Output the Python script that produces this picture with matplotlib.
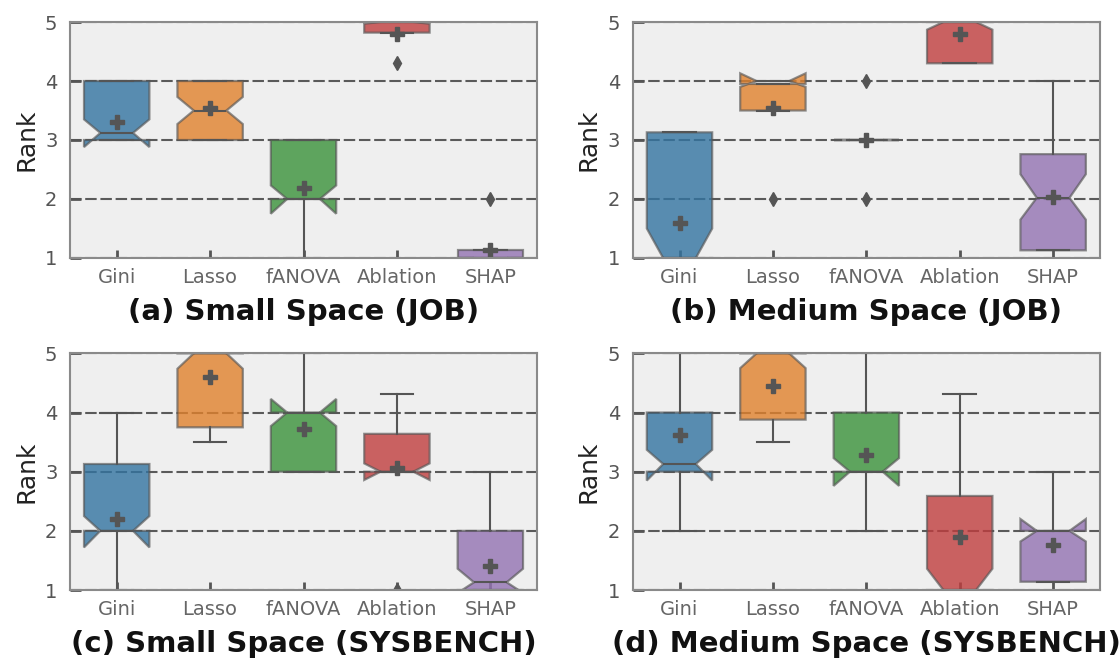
import matplotlib
matplotlib.use('Agg')
import matplotlib.pyplot as plt
import matplotlib.colors as mcolors

methods = ['Gini', 'Lasso', 'fANOVA', 'Ablation', 'SHAP']
titles = ['(a) Small Space (JOB)', '(b) Medium Space (JOB)',
          '(c) Small Space (SYSBENCH)', '(d) Medium Space (SYSBENCH)']

# box statistics, one list per statistic, one entry per method
# (a) small space, JOB
a_q1 = [3.0, 3.0, 2.0, 4.82, 1.0]
a_med = [3.12, 3.5, 2.0, 5.0, 1.0]
a_q3 = [4.0, 4.0, 3.0, 5.0, 1.14]
a_lo = [3.0, 3.0, 1.0, 4.82, 1.0]
a_hi = [4.0, 4.0, 3.0, 5.0, 1.14]
a_mean = [3.3, 3.55, 2.18, 4.8, 1.13]
a_cilo = [2.88, 3.27, 1.75, 4.97, 1.0]
a_cihi = [3.35, 3.73, 2.23, 5.03, 1.0]
a_fliers = [[], [], [], [4.3], [2.0]]

# (b) medium space, JOB
b_q1 = [1.0, 3.5, 3.0, 4.3, 1.13]
b_med = [1.0, 4.0, 3.0, 5.0, 2.02]
b_q3 = [3.13, 3.95, 3.0, 5.0, 2.76]
b_lo = [1.0, 3.5, 3.0, 4.3, 1.13]
b_hi = [3.13, 3.95, 3.0, 5.0, 4.0]
b_mean = [1.6, 3.55, 3.0, 4.8, 2.03]
b_cilo = [0.5, 3.9, 3.0, 4.87, 1.65]
b_cihi = [1.5, 4.13, 3.0, 5.13, 2.42]
b_fliers = [[], [2.0], [2.0, 4.0], [], []]

# (c) small space, SYSBENCH
c_q1 = [2.0, 3.75, 3.0, 3.0, 1.0]
c_med = [2.0, 5.0, 4.0, 3.0, 1.13]
c_q3 = [3.13, 5.0, 4.0, 3.64, 2.0]
c_lo = [1.0, 3.5, 3.0, 3.0, 1.0]
c_hi = [4.0, 5.0, 5.0, 4.32, 3.0]
c_mean = [2.2, 4.6, 3.73, 3.07, 1.4]
c_cilo = [1.72, 4.74, 3.77, 2.86, 0.95]
c_cihi = [2.25, 5.26, 4.23, 3.14, 1.36]
c_fliers = [[], [], [], [1.0], []]

# (d) medium space, SYSBENCH
d_q1 = [3.0, 3.88, 3.0, 1.0, 1.14]
d_med = [3.13, 5.0, 3.0, 1.0, 2.0]
d_q3 = [4.0, 5.0, 4.0, 2.59, 2.0]
d_lo = [2.0, 3.5, 2.0, 1.0, 1.14]
d_hi = [5.0, 5.0, 5.0, 4.32, 3.0]
d_mean = [3.62, 4.45, 3.29, 1.9, 1.76]
d_cilo = [2.85, 4.75, 2.76, 0.64, 1.82]
d_cihi = [3.37, 5.25, 3.23, 1.36, 2.2]
d_fliers = [[], [], [], [], []]

panels = [
    (a_q1, a_med, a_q3, a_lo, a_hi, a_mean, a_cilo, a_cihi, a_fliers),
    (b_q1, b_med, b_q3, b_lo, b_hi, b_mean, b_cilo, b_cihi, b_fliers),
    (c_q1, c_med, c_q3, c_lo, c_hi, c_mean, c_cilo, c_cihi, c_fliers),
    (d_q1, d_med, d_q3, d_lo, d_hi, d_mean, d_cilo, d_cihi, d_fliers),
]

colors = ['#3274a1', '#e1812c', '#3a923a', '#c03d3e', '#9372b2']
line_gray = '#555555'
bg = '#efefef'

fig = plt.figure(figsize=(11.2, 6.61), dpi=100)
positions = [
    [0.0625, 0.6097, 0.417, 0.357],
    [0.565, 0.6097, 0.417, 0.357],
    [0.0625, 0.1074, 0.417, 0.358],
    [0.565, 0.1074, 0.417, 0.358],
]

for k, (q1, med, q3, lo, hi, mean, cilo, cihi, fliers) in enumerate(panels):
    ax = fig.add_axes(positions[k])
    ax.set_facecolor(bg)
    stats = []
    for i, name in enumerate(methods):
        stats.append(dict(label=name, q1=q1[i], med=med[i], q3=q3[i],
                          whislo=lo[i], whishi=hi[i], mean=mean[i],
                          cilo=cilo[i], cihi=cihi[i], fliers=fliers[i]))
    bp = ax.bxp(stats, positions=range(len(methods)), widths=0.7,
                shownotches=True, patch_artist=True, showmeans=True,
                boxprops=dict(linewidth=1.6, edgecolor=line_gray),
                medianprops=dict(color=line_gray, linewidth=1.5),
                whiskerprops=dict(color=line_gray, linewidth=1.5),
                capprops=dict(color=line_gray, linewidth=1.5),
                capwidths=0.35,
                meanprops=dict(marker='P', markerfacecolor=line_gray,
                               markeredgecolor=line_gray, markersize=9.5),
                flierprops=dict(marker='d', markerfacecolor=line_gray,
                                markeredgecolor=line_gray, markersize=7))
    for patch, c in zip(bp['boxes'], colors):
        patch.set_facecolor(mcolors.to_rgba(c, 0.8))
        patch.set_edgecolor(mcolors.to_rgba(line_gray, 0.65))

    ax.set_xlim(-0.5, 4.5)
    ax.set_ylim(1, 5)
    ax.set_yticks([1, 2, 3, 4, 5])
    ax.set_axisbelow(True)
    ax.yaxis.grid(True, color='#5a5a5a', linestyle=(0, (5.5, 1.8)), linewidth=1.5)
    ax.xaxis.grid(False)
    for s in ax.spines.values():
        s.set_color('#8a8a8a')
        s.set_linewidth(1.5)
    ax.tick_params(axis='x', direction='in', length=6, width=2, color='#555555',
                   labelsize=14, labelcolor='#666666', pad=7)
    ax.tick_params(axis='y', direction='in', length=8, width=2, color='#555555',
                   labelsize=14, labelcolor='#555555', pad=9)
    ax.set_ylabel('Rank', fontsize=18, color='#222222', labelpad=5)
    ax.text(0.5, -0.23, titles[k], transform=ax.transAxes, ha='center',
            va='center', fontsize=21, fontweight='bold', color='#111111')

fig.savefig('out.png', dpi=100)
